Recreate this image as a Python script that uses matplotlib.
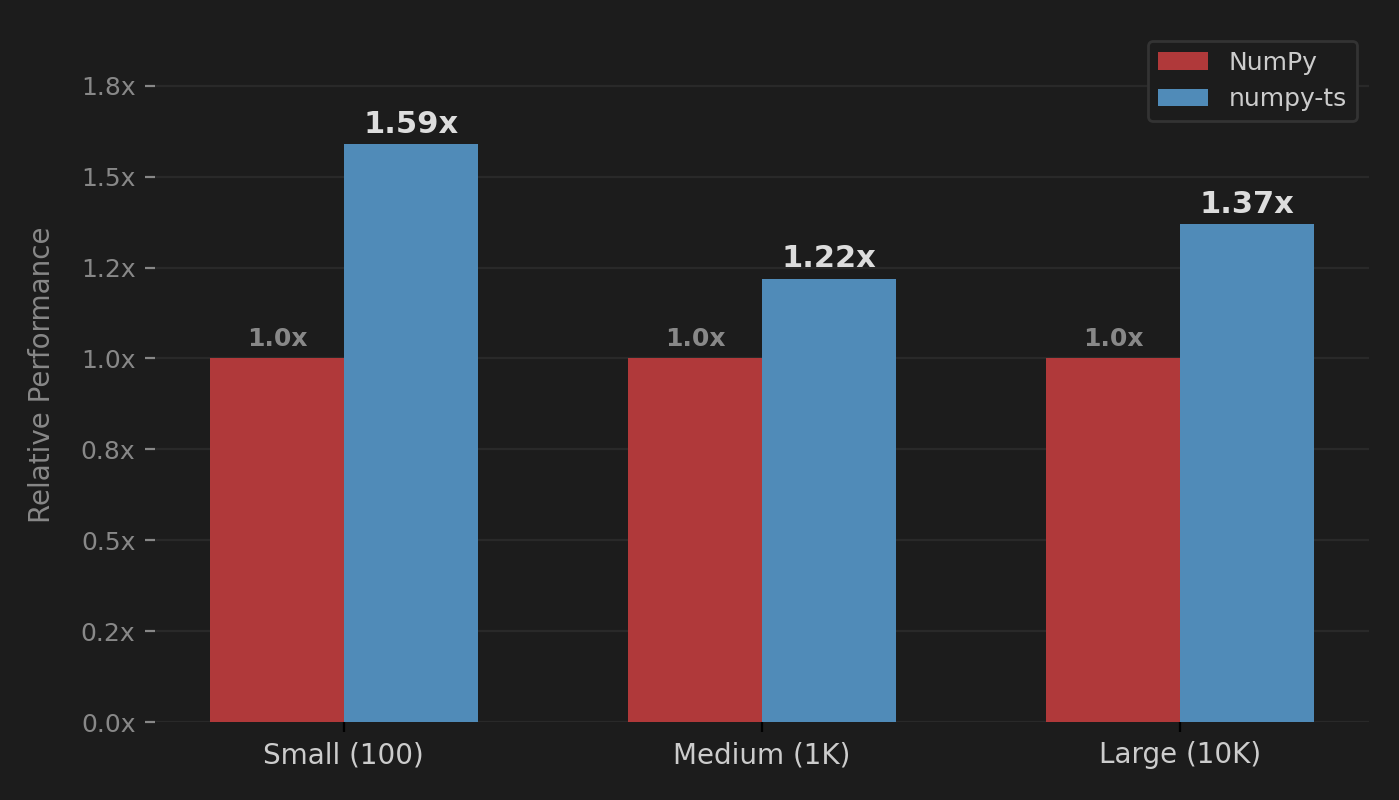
import numpy as np
import matplotlib
matplotlib.use('Agg')
import matplotlib.pyplot as plt
from matplotlib.ticker import FuncFormatter

# data
sizes = ['Small (100)', 'Medium (1K)', 'Large (10K)']
numpy_rel = [1.0, 1.0, 1.0]
numpy_ts_rel = [1.59, 1.22, 1.37]

bg = '#1c1c1c'
red = '#b0393a'
blue = '#508bb8'

fig, ax = plt.subplots(figsize=(6.995, 4), dpi=200)
fig.patch.set_facecolor(bg)
ax.set_facecolor(bg)

x = np.arange(len(sizes))
w = 0.32
b1 = ax.bar(x - w/2, numpy_rel, w, color=red, label='NumPy', linewidth=0, zorder=3)
b2 = ax.bar(x + w/2, numpy_ts_rel, w, color=blue, label='numpy-ts', linewidth=0, zorder=3)

for rect, v in zip(b1, numpy_rel):
    ax.text(rect.get_x() + rect.get_width()/2, v + 0.02, f'{v:.1f}x',
            ha='center', va='bottom', fontsize=9, fontweight='bold', color='#888888')
for rect, v in zip(b2, numpy_ts_rel):
    ax.text(rect.get_x() + rect.get_width()/2, v + 0.015, f'{v:.2f}x',
            ha='center', va='bottom', fontsize=11, fontweight='bold', color='#dddddd')

ax.set_ylim(0, max(numpy_ts_rel) * 1.2)
ax.set_xticks(x)
ax.set_xticklabels(sizes, fontsize=10, color='#cccccc')
ax.yaxis.set_major_formatter(FuncFormatter(lambda v, p: f'{v:.1f}x'))
ax.tick_params(axis='y', colors='#888888', labelsize=9)
ax.tick_params(axis='x', color='black')
ax.set_ylabel('Relative Performance', fontsize=10, color='#888888', labelpad=9)

ax.grid(axis='y', color='#292929', linewidth=0.8, zorder=0)
ax.set_axisbelow(True)
for s in ax.spines.values():
    s.set_visible(False)

leg = ax.legend(loc='upper right', fontsize=9, facecolor=bg, edgecolor='#333333',
                labelcolor='#cccccc', framealpha=1)

plt.subplots_adjust(left=0.1107, right=0.9786, bottom=0.0975, top=0.9645)
plt.savefig('out.png', dpi=200, facecolor=bg)
